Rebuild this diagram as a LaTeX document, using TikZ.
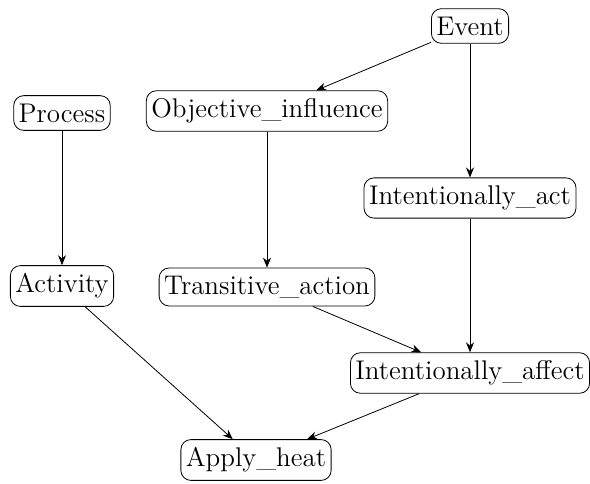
\documentclass[tikz,border=0pt]{standalone}
\usepackage{tikz}
\usetikzlibrary{arrows.meta}
\tikzset{
	frame/.style={draw, rounded corners=5pt, inner xsep=2.5pt, inner ysep=4pt, font=\fontsize{13.5}{15}\selectfont},
	link/.style={-{Stealth[length=5pt,width=4pt]}, line width=0.4pt}
}

\begin{document}
\begin{tikzpicture}[x=0.5pt, y=-0.5pt]
		%%%%% START %%%%%
		
		\useasboundingbox (0, 0) rectangle (590, 483);
		
		\node[frame] (event) at (470, 26) {Event};
		\node[frame] (process) at (62, 113) {Process};
		\node[frame] (objinf) at (267, 111) {Objective\_influence};
		\node[frame] (intact) at (470, 198) {Intentionally\_act};
		\node[frame] (activity) at (62, 286) {Activity};
		\node[frame] (transact) at (267, 287) {Transitive\_action};
		\node[frame] (intaff) at (470, 373) {Intentionally\_affect};
		\node[frame] (heat) at (256, 460) {Apply\_heat};
		
		\draw[link] (event) -- (objinf);
		\draw[link] (event) -- (intact);
		\draw[link] (process) -- (activity);
		\draw[link] (objinf) -- (transact);
		\draw[link] (transact) -- (intaff);
		\draw[link] (intact) -- (intaff);
		\draw[link] (activity) -- (heat);
		\draw[link] (intaff) -- (heat);
		
		%%%%% END %%%%%
\end{tikzpicture}
\end{document}
